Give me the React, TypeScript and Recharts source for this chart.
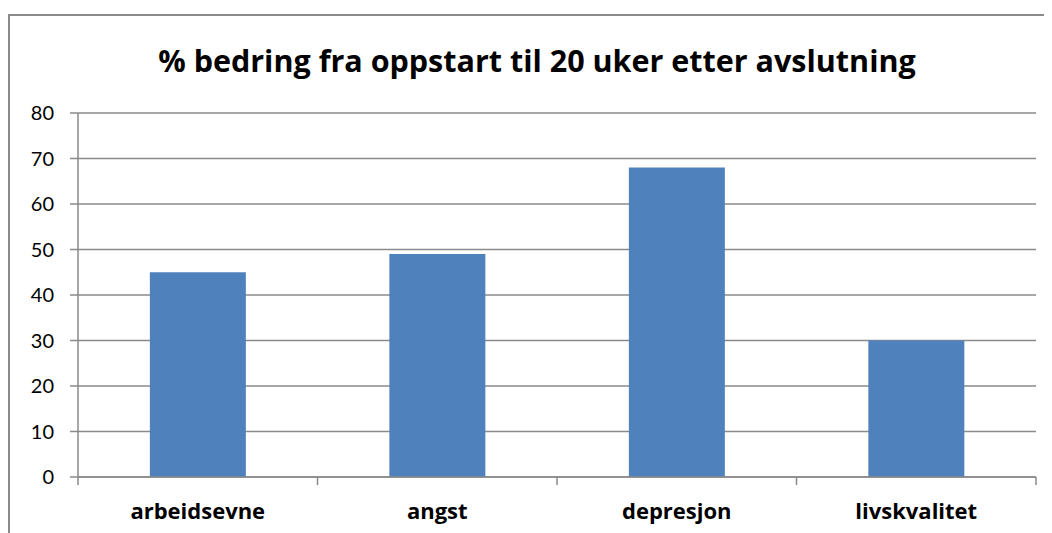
import React from "react";
import { BarChart, Bar, XAxis, YAxis, CartesianGrid } from "recharts";

const categories = ["arbeidsevne", "angst", "depresjon", "livskvalitet"];
const improvement = [45, 49, 68, 30];
const yTicks = [0, 10, 20, 30, 40, 50, 60, 70, 80];

const chartTitle = "% bedring fra oppstart til 20 uker etter avslutning";

const data = categories.map((name, i) => ({ name, value: improvement[i] }));

const gray = "#8a8a8a";
const font = "'Open Sans', 'Liberation Sans', sans-serif";

// category label plus the small tick marks that sit on the band boundaries
function CategoryTick(props: any) {
  const { x, y, payload, index } = props;
  const half = payload?.offset ?? 0;
  const last = index === categories.length - 1;
  return (
    <g>
      <line x1={x - half} x2={x - half} y1={y} y2={y + 8} stroke={gray} strokeWidth={1.5} />
      {last && <line x1={x + half} x2={x + half} y1={y} y2={y + 8} stroke={gray} strokeWidth={1.5} />}
      <text x={x} y={y + 42} textAnchor="middle" fill="#000" fontSize={22} fontWeight={700} fontFamily={font}>
        {payload.value}
      </text>
    </g>
  );
}

export default function App() {
  return (
    <div style={{ position: "relative", width: 1044, height: 525, overflow: "hidden" }}>
      <div
        style={{
          position: "absolute",
          left: 0,
          top: 6,
          width: 1100,
          height: 600,
          borderTop: `2px solid ${gray}`,
          borderLeft: `2px solid ${gray}`,
          boxSizing: "border-box",
        }}
      />
      <div
        style={{
          position: "absolute",
          left: 0,
          top: 34,
          width: 1058,
          textAlign: "center",
          fontFamily: font,
          fontWeight: 700,
          fontSize: 30.5,
          lineHeight: "36px",
          color: "#000",
        }}
      >
        {chartTitle}
      </div>
      <BarChart
        width={1044}
        height={525}
        data={data}
        margin={{ top: 105, right: 16, left: 0, bottom: 16 }}
        barCategoryGap="30%"
        style={{ position: "absolute", left: 0, top: 0 }}
      >
        <CartesianGrid vertical={false} stroke={gray} strokeWidth={1.5} />
        <XAxis
          dataKey="name"
          interval={0}
          tick={<CategoryTick />}
          tickSize={0}
          tickMargin={0}
          tickLine={false}
          axisLine={{ stroke: gray, strokeWidth: 1.5 }}
          height={40}
        />
        <YAxis
          domain={[0, 80]}
          ticks={yTicks}
          width={70}
          tickSize={8}
          tickMargin={16}
          axisLine={{ stroke: gray, strokeWidth: 1.5 }}
          tickLine={{ stroke: gray, strokeWidth: 1.5 }}
          tick={{ fill: "#000", fontSize: 20, fontFamily: "Lato, 'Liberation Sans', sans-serif" }}
        />
        <Bar dataKey="value" fill="#4F81BD" isAnimationActive={false} />
      </BarChart>
    </div>
  );
}
